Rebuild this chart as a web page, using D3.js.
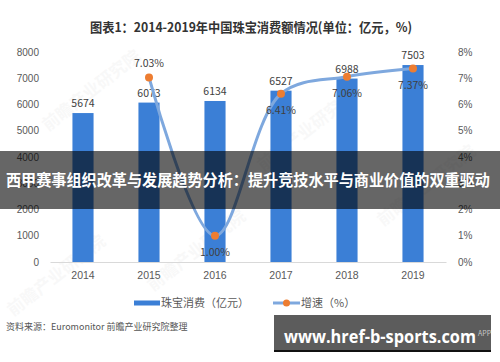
<!DOCTYPE html>
<html>
<head>
<meta charset="utf-8">
<script src="https://cdn.jsdelivr.net/npm/d3@7"></script>
<style>
  body { margin: 0; background: #fff; }
  svg { display: block; font-family: "Noto Sans CJK SC", "Noto Sans", sans-serif; }
  .axis text { fill: #595959; font-size: 10px; }
</style>
</head>
<body>
<div id="chart"></div>
<script>
const years = ['2014', '2015', '2016', '2017', '2018', '2019'];
const sales = [5674, 6073, 6134, 6527, 6988, 7503];
const growth = [null, 7.03, 1.00, 6.41, 7.06, 7.37];
const leftTicks = [0, 1000, 2000, 3000, 4000, 5000, 6000, 7000, 8000];
const rightTicks = [0, 1, 2, 3, 4, 5, 6, 7, 8];

const width = 500, height = 362;
const svg = d3.select('#chart').append('svg')
    .attr('width', width)
    .attr('height', height);

// faint watermarks
[[95, 95], [310, 135], [200, 255], [430, 190], [60, 280]].forEach(([wx, wy]) => {
  svg.append('text')
      .attr('transform', `translate(${wx},${wy}) rotate(-38)`)
      .attr('text-anchor', 'middle')
      .style('font-size', '17px')
      .style('font-weight', 'bold')
      .style('fill', '#000')
      .style('opacity', 0.025)
      .text('前瞻产业研究院');
});

svg.append('text')
    .attr('x', 251).attr('y', 32)
    .attr('text-anchor', 'middle')
    .attr('textLength', 322)
    .attr('lengthAdjust', 'spacingAndGlyphs')
    .style('font-size', '13px')
    .style('font-weight', 'bold')
    .style('fill', '#333')
    .text('图表1：2014-2019年中国珠宝消费额情况(单位：亿元，%)');

const x = d3.scaleBand()
    .domain(years)
    .range([50, 446])
    .paddingInner(0.68)
    .paddingOuter(0.34);

const yL = d3.scaleLinear().domain([0, 8000]).range([262, 52]);
const yR = d3.scaleLinear().domain([0, 8]).range([262, 52]);

svg.append('g')
    .classed('axis', true)
    .attr('transform', 'translate(39,0)')
    .call(d3.axisLeft(yL).tickValues(leftTicks).tickSize(0).tickPadding(0)
        .tickFormat(d3.format('d')))
    .call(g => g.select('.domain').remove());

svg.append('g')
    .classed('axis', true)
    .attr('transform', 'translate(458,0)')
    .call(d3.axisRight(yR).tickValues(rightTicks).tickSize(0).tickPadding(0)
        .tickFormat(d => d + '%'))
    .call(g => g.select('.domain').remove());

svg.append('g')
    .classed('axis', true)
    .attr('transform', 'translate(0,262)')
    .call(d3.axisBottom(x).tickSize(0).tickPadding(10))
    .call(g => g.select('.domain').attr('stroke', '#d9d9d9'))
    .call(g => g.selectAll('text').style('font-size', '10.5px'));

svg.selectAll('.bar')
    .data(sales)
    .enter()
    .append('rect')
    .attr('x', (d, i) => x(years[i]))
    .attr('y', d => yL(d))
    .attr('width', x.bandwidth())
    .attr('height', d => yL(0) - yL(d))
    .attr('fill', '#3b7fd6');

svg.selectAll('.barlabel')
    .data(sales)
    .enter()
    .append('text')
    .attr('x', (d, i) => x(years[i]) + x.bandwidth() / 2)
    .attr('y', d => yL(d) - 6)
    .attr('text-anchor', 'middle')
    .style('font-size', '10.5px')
    .style('fill', '#404040')
    .text(d => d);

const pts = growth.map((g, i) => ({year: years[i], val: g})).filter(d => d.val !== null);

svg.append('path')
    .datum(pts)
    .attr('fill', 'none')
    .attr('stroke', '#7ea8de')
    .attr('stroke-width', 3)
    .attr('d', d3.line()
        .x(d => x(d.year) + x.bandwidth() / 2)
        .y(d => yR(d.val))
        .curve(d3.curveCatmullRom.alpha(0.5)));

svg.selectAll('.dot')
    .data(pts)
    .enter()
    .append('circle')
    .attr('cx', d => x(d.year) + x.bandwidth() / 2)
    .attr('cy', d => yR(d.val))
    .attr('r', 4)
    .attr('fill', '#ed7d31');

// first label sits above its point, the rest below
svg.selectAll('.glabel')
    .data(pts)
    .enter()
    .append('text')
    .attr('x', d => x(d.year) + x.bandwidth() / 2)
    .attr('y', (d, i) => i === 0 ? yR(d.val) - 10 : yR(d.val) + 20)
    .attr('text-anchor', 'middle')
    .style('font-size', '10.5px')
    .style('fill', '#404040')
    .text(d => d.val.toFixed(2) + '%');

// legend
const legend = svg.append('g').attr('transform', 'translate(0,303)');
legend.append('rect')
    .attr('x', 134).attr('y', -2.5)
    .attr('width', 26).attr('height', 5)
    .attr('fill', '#3b7fd6');
legend.append('text')
    .attr('x', 161).attr('y', 4)
    .style('font-size', '11px')
    .style('fill', '#595959')
    .text('珠宝消费（亿元）');
legend.append('line')
    .attr('x1', 273).attr('x2', 300)
    .attr('stroke', '#7ea8de')
    .attr('stroke-width', 3);
legend.append('circle')
    .attr('cx', 286.5).attr('r', 3.5)
    .attr('fill', '#ed7d31');
legend.append('text')
    .attr('x', 301).attr('y', 4)
    .style('font-size', '11px')
    .style('fill', '#595959')
    .text('增速（%）');

svg.append('text')
    .attr('x', 6).attr('y', 330)
    .style('font-size', '9px')
    .style('fill', '#555')
    .text('资料来源：Euromonitor  前瞻产业研究院整理');

// overlay band
svg.append('rect')
    .attr('x', 0).attr('y', 151)
    .attr('width', width).attr('height', 58)
    .attr('fill', 'rgba(0,0,0,0.6)');
svg.append('text')
    .attr('x', 248).attr('y', 186)
    .attr('text-anchor', 'middle')
    .attr('textLength', 484)
    .attr('lengthAdjust', 'spacingAndGlyphs')
    .style('font-size', '15.5px')
    .style('font-weight', 'bold')
    .style('fill', '#fff')
    .text('西甲赛事组织改革与发展趋势分析：提升竞技水平与商业价值的双重驱动');

// bottom banner
svg.append('rect')
    .attr('x', 274).attr('y', 315)
    .attr('width', 217).attr('height', 37)
    .attr('fill', '#5c5c5c');
svg.append('rect')
    .attr('x', 274).attr('y', 350)
    .attr('width', 217).attr('height', 2)
    .attr('fill', '#111');
svg.append('text')
    .attr('x', 478).attr('y', 336)
    .style('font-size', '7px')
    .style('fill', '#c8c8c8')
    .text('APP');
svg.append('text')
    .attr('x', 284).attr('y', 343)
    .attr('textLength', 192)
    .attr('lengthAdjust', 'spacingAndGlyphs')
    .style('font-size', '17px')
    .style('font-weight', 'bold')
    .style('fill', '#fff')
    .style('font-family', '"Open Sans", "DejaVu Sans", sans-serif')
    .text('www.href-b-sports.com');
</script>
</body>
</html>
